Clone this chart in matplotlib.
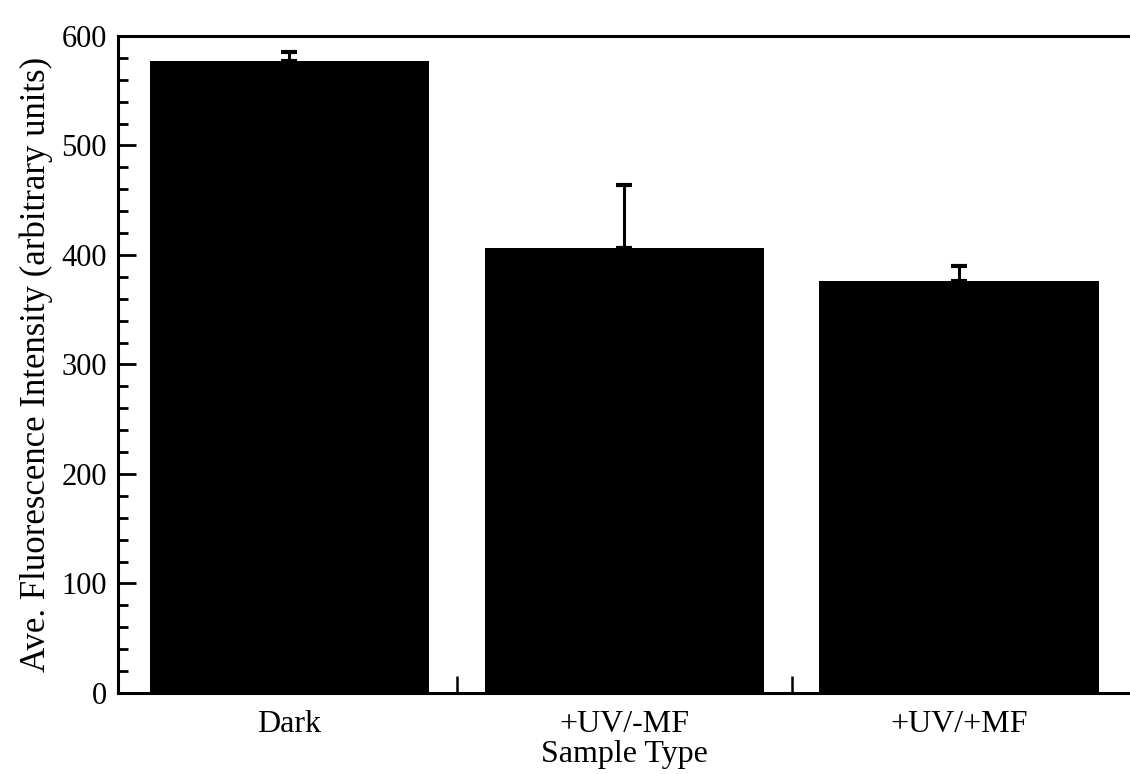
"""
    average fluorescence intensity by sample type
"""

import matplotlib.pyplot as plt
import numpy as np
from matplotlib.ticker import FixedLocator, MultipleLocator

categories = ["Dark", "+UV/-MF", "+UV/+MF"]
intensity = [577, 406, 376]
err_upper = [8, 58, 14]


def main():
    plt.rcParams["font.family"] = ["Liberation Serif", "DejaVu Serif"]

    fig = plt.figure(figsize=(11.3, 7.74), dpi=100)
    ax = fig.add_axes([0.1044, 0.1047, 0.8956, 0.8488])

    x = np.arange(len(categories))
    ax.bar(x, intensity, width=0.835, color="black", zorder=2)
    # only the upper half of the error bar shows; the bar hides the rest
    ax.errorbar(x, intensity, yerr=[np.zeros(len(x)), err_upper], fmt="none",
                ecolor="black", elinewidth=2.2, capsize=6, capthick=3, zorder=1)

    ax.set_xlim(-0.512, 2.51)
    ax.set_ylim(0, 600)

    ax.spines["right"].set_visible(False)
    for side in ("left", "top", "bottom"):
        ax.spines[side].set_linewidth(2.2)

    ax.yaxis.set_major_locator(MultipleLocator(100))
    ax.yaxis.set_minor_locator(MultipleLocator(20))
    ax.tick_params(axis="y", which="major", direction="in", length=13, width=2,
                   labelsize=22, pad=8)
    ax.tick_params(axis="y", which="minor", direction="in", length=7, width=2)

    ax.set_xticks(x)
    ax.set_xticklabels(categories)
    ax.xaxis.set_minor_locator(FixedLocator([0.5, 1.5]))
    ax.tick_params(axis="x", which="major", length=0, labelsize=23, pad=12)
    ax.tick_params(axis="x", which="minor", direction="in", length=12, width=1.8)

    ax.set_xlabel("Sample Type", fontsize=23, labelpad=1)
    ax.set_ylabel("Ave. Fluorescence Intensity (arbitrary units)", fontsize=25,
                  labelpad=6)

    fig.savefig("out.png", dpi=100)


if __name__ == "__main__":
    main()
